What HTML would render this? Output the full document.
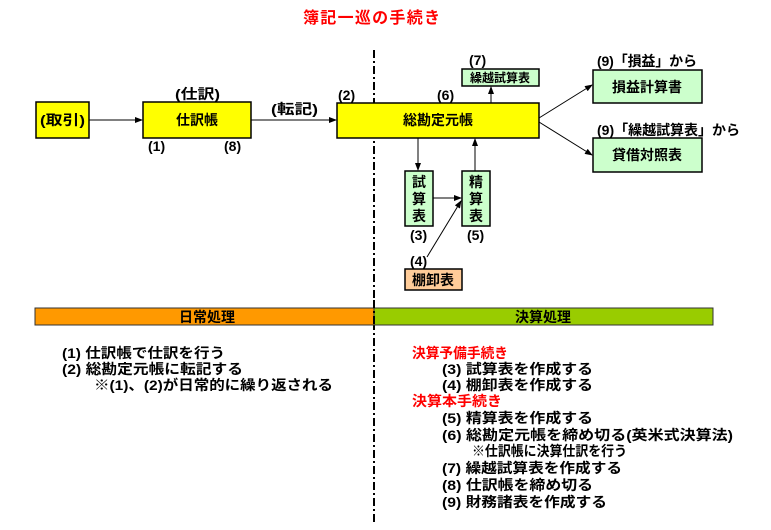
<!DOCTYPE html>
<html><head><meta charset="utf-8"><style>
body{margin:0;background:#fff}
svg text{font-family:"Liberation Sans","Noto Sans CJK JP",sans-serif;font-weight:bold}
</style></head><body>
<svg width="771" height="525" viewBox="0 0 771 525" xmlns="http://www.w3.org/2000/svg">
<defs><marker id="a" markerWidth="8" markerHeight="6" refX="7" refY="3" orient="auto" markerUnits="userSpaceOnUse"><path d="M0,0L8,3L0,6z" fill="#000"/></marker></defs>
<text x="303" y="23" font-size="16" fill="#f00" textLength="137" lengthAdjust="spacing">簿記一巡の手続き</text>
<line x1="374" y1="50" x2="374" y2="525" stroke="#000" stroke-width="2" stroke-dasharray="8,3,2,3"/>
<g stroke="#000" stroke-width="1.5">
<rect x="36" y="102" width="53" height="36" fill="#ff0"/>
<rect x="143" y="102" width="108" height="36" fill="#ff0"/>
<rect x="337" y="103" width="202" height="35" fill="#ff0"/>
<rect x="462" y="69" width="77" height="17" fill="#cfc"/>
<rect x="593" y="70" width="109" height="33" fill="#cfc"/>
<rect x="593" y="138" width="109" height="34" fill="#cfc"/>
<rect x="405" y="171" width="28" height="55" fill="#cfc"/>
<rect x="462" y="171" width="28" height="55" fill="#cfc"/>
<rect x="405" y="269" width="57" height="21" fill="#fc9"/>
</g>
<g stroke="#000" stroke-width="1" marker-end="url(#a)">
<line x1="89" y1="120" x2="142" y2="120"/>
<line x1="251" y1="120" x2="336" y2="120"/>
<line x1="491" y1="103" x2="491" y2="87"/>
<line x1="539" y1="118" x2="592" y2="85"/>
<line x1="539" y1="122" x2="592" y2="155"/>
<line x1="418" y1="138" x2="418" y2="170"/>
<line x1="475" y1="171" x2="475" y2="139"/>
<line x1="433" y1="198" x2="461" y2="198"/>
<line x1="427" y1="257" x2="461" y2="201"/>
</g>
<g font-size="14" fill="#000">
<text x="40" y="125" textLength="45" lengthAdjust="spacingAndGlyphs">(取引)</text>
<text x="197" y="125" text-anchor="middle">仕訳帳</text>
<text x="175" y="99" textLength="45" lengthAdjust="spacingAndGlyphs">(仕訳)</text>
<text x="271" y="114" textLength="47" lengthAdjust="spacingAndGlyphs">(転記)</text>
<text x="148" y="151">(1)</text>
<text x="224" y="151">(8)</text>
<text x="338" y="100">(2)</text>
<text x="437" y="100">(6)</text>
<text x="438" y="125" text-anchor="middle">総勘定元帳</text>
<text x="469" y="65">(7)</text>
<text x="500" y="82" text-anchor="middle" font-size="12">繰越試算表</text>
<text x="597" y="66" textLength="100" lengthAdjust="spacing">(9)「損益」から</text>
<text x="647" y="92" text-anchor="middle">損益計算書</text>
<text x="597" y="135" textLength="143" lengthAdjust="spacing">(9)「繰越試算表」から</text>
<text x="647" y="160" text-anchor="middle">貸借対照表</text>
<text x="419" y="187" text-anchor="middle">試</text>
<text x="419" y="204" text-anchor="middle">算</text>
<text x="419" y="221" text-anchor="middle">表</text>
<text x="476" y="187" text-anchor="middle">精</text>
<text x="476" y="204" text-anchor="middle">算</text>
<text x="476" y="221" text-anchor="middle">表</text>
<text x="410" y="240">(3)</text>
<text x="467" y="240">(5)</text>
<text x="410" y="266">(4)</text>
<text x="433" y="285" text-anchor="middle">棚卸表</text>
</g>
<rect x="35" y="308" width="339" height="17" fill="#f90" stroke="#333" stroke-width="1"/>
<rect x="374" y="308" width="339" height="17" fill="#9c0" stroke="#333" stroke-width="1"/>
<line x1="374" y1="300" x2="374" y2="330" stroke="#000" stroke-width="2" stroke-dasharray="8,3,2,3"/>
<g font-size="14" fill="#000">
<text x="207" y="322" text-anchor="middle">日常処理</text>
<text x="543" y="322" text-anchor="middle">決算処理</text>
<text x="62" y="358" textLength="163" lengthAdjust="spacingAndGlyphs">(1) 仕訳帳で仕訳を行う</text>
<text x="62" y="374" textLength="181" lengthAdjust="spacingAndGlyphs">(2) 総勘定元帳に転記する</text>
<text x="94" y="390" textLength="239" lengthAdjust="spacingAndGlyphs">※(1)、(2)が日常的に繰り返される</text>
<text x="412" y="358" fill="#f00" textLength="96" lengthAdjust="spacingAndGlyphs">決算予備手続き</text>
<text x="442" y="374" textLength="151" lengthAdjust="spacingAndGlyphs">(3) 試算表を作成する</text>
<text x="442" y="390" textLength="151" lengthAdjust="spacingAndGlyphs">(4) 棚卸表を作成する</text>
<text x="412" y="406" fill="#f00" textLength="90" lengthAdjust="spacingAndGlyphs">決算本手続き</text>
<text x="442" y="423" textLength="151" lengthAdjust="spacingAndGlyphs">(5) 精算表を作成する</text>
<text x="442" y="440" textLength="291" lengthAdjust="spacingAndGlyphs">(6) 総勘定元帳を締め切る(英米式決算法)</text>
<text x="472" y="456" textLength="155" lengthAdjust="spacingAndGlyphs">※仕訳帳に決算仕訳を行う</text>
<text x="442" y="473" textLength="180" lengthAdjust="spacingAndGlyphs">(7) 繰越試算表を作成する</text>
<text x="442" y="490" textLength="151" lengthAdjust="spacingAndGlyphs">(8) 仕訳帳を締め切る</text>
<text x="442" y="507" textLength="165" lengthAdjust="spacingAndGlyphs">(9) 財務諸表を作成する</text>
</g>
</svg>
</body></html>
